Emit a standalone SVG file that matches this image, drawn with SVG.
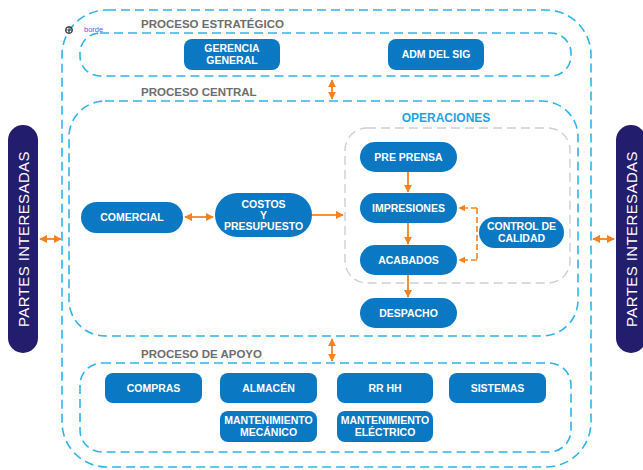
<svg xmlns="http://www.w3.org/2000/svg" width="643" height="470" viewBox="0 0 643 470">
<defs>
<style>
.zone{fill:none;stroke:#2fb4ea;stroke-width:1.6;stroke-dasharray:9 5}
.ops{fill:none;stroke:#cfcfcf;stroke-width:1.4;stroke-dasharray:9 5}
.node{fill:#0a78c3}
.nt{font-family:"Liberation Sans",Arial,sans-serif;font-weight:bold;font-size:10.5px;fill:#fff;text-anchor:middle}
.pi{fill:#231d6e}
.pit{font-family:"Liberation Sans",Arial,sans-serif;font-size:15px;fill:#fff;text-anchor:middle;letter-spacing:0.4px}
.title{font-family:"Liberation Sans",Arial,sans-serif;font-weight:bold;font-size:11.5px;fill:#6d6d6d}
.arr{fill:none;stroke:#f5821f;stroke-width:1.8}
.arrd{fill:none;stroke:#f5821f;stroke-width:1.6;stroke-dasharray:6 3}
</style>
<marker id="ah" viewBox="0 0 10 10" refX="9" refY="5" markerWidth="4.5" markerHeight="4.5" orient="auto-start-reverse">
<path d="M0,0 L10,5 L0,10 z" fill="#f5821f"/>
</marker>
</defs>
<rect width="643" height="470" fill="#fff"/>

<g id="zones">
<rect class="zone" x="62" y="10" width="529" height="457" rx="45"/>
<rect class="zone" x="80" y="33" width="491" height="43" rx="20"/>
<rect class="zone" x="69" y="101" width="509" height="235" rx="36"/>
<rect class="zone" x="80" y="363" width="491" height="89" rx="22"/>
<rect class="ops" x="345" y="128" width="225" height="155" rx="22"/>
</g>

<g id="titles">
<text class="title" x="141" y="28">PROCESO ESTRATÉGICO</text>
<text class="title" x="141" y="96">PROCESO CENTRAL</text>
<text class="title" x="141" y="358">PROCESO DE APOYO</text>
<text x="446" y="122" font-family="Liberation Sans,Arial,sans-serif" font-weight="bold" font-size="12px" fill="#1ea3e6" text-anchor="middle">OPERACIONES</text>
<g id="borde">
<circle cx="69" cy="30" r="3.2" fill="none" stroke="#333" stroke-width="1.2"/>
<path d="M65,30 H73 M69,26 V34" stroke="#333" stroke-width="0.8"/>
<text x="84" y="32" font-family="Liberation Sans,Arial,sans-serif" font-size="7.5px" fill="#5a5af0">borde</text>
</g>
</g>

<g id="connectors">
<line class="arr" x1="332" y1="80" x2="332" y2="99" marker-start="url(#ah)" marker-end="url(#ah)"/>
<line class="arr" x1="332" y1="339" x2="332" y2="361" marker-start="url(#ah)" marker-end="url(#ah)"/>
<line class="arr" x1="40" y1="239" x2="61" y2="239" marker-start="url(#ah)" marker-end="url(#ah)"/>
<line class="arr" x1="593" y1="239" x2="614" y2="239" marker-start="url(#ah)" marker-end="url(#ah)"/>
<line class="arr" x1="185" y1="217" x2="213" y2="217" marker-start="url(#ah)" marker-end="url(#ah)"/>
<line class="arr" x1="312" y1="215" x2="343" y2="215" marker-end="url(#ah)"/>
<line class="arr" x1="408" y1="172" x2="408" y2="192" marker-end="url(#ah)"/>
<line class="arr" x1="408" y1="223" x2="408" y2="244" marker-end="url(#ah)"/>
<line class="arr" x1="408" y1="275" x2="408" y2="297" marker-end="url(#ah)"/>
<path class="arrd" d="M477,208 V260"/>
<line class="arrd" x1="477" y1="208" x2="459" y2="208" marker-end="url(#ah)"/>
<line class="arrd" x1="477" y1="260" x2="459" y2="260" marker-end="url(#ah)"/>
</g>

<g id="partes-izq">
<rect class="pi" x="8" y="125" width="30" height="228" rx="15"/>
<text class="pit" transform="translate(28.5,239) rotate(-90)">PARTES INTERESADAS</text>
</g>
<g id="partes-der">
<rect class="pi" x="616" y="125" width="30" height="228" rx="15"/>
<text class="pit" transform="translate(636.5,239) rotate(-90)">PARTES INTERESADAS</text>
</g>

<g id="gerencia">
<rect class="node" x="184" y="39" width="96" height="31" rx="8"/>
<text class="nt" x="232" y="52">GERENCIA</text>
<text class="nt" x="232" y="64">GENERAL</text>
</g>
<g id="adm">
<rect class="node" x="388" y="39" width="96" height="31" rx="8"/>
<text class="nt" x="436" y="58">ADM DEL SIG</text>
</g>

<g id="comercial">
<rect class="node" x="81" y="202" width="102" height="31" rx="15.5"/>
<text class="nt" x="132" y="221">COMERCIAL</text>
</g>
<g id="costos">
<rect class="node" x="215" y="193" width="97" height="44" rx="22"/>
<text class="nt" x="263.5" y="208">COSTOS</text>
<text class="nt" x="263.5" y="219">Y</text>
<text class="nt" x="263.5" y="230">PRESUPUESTO</text>
</g>

<g id="preprensa">
<rect class="node" x="360" y="142" width="97" height="30" rx="15"/>
<text class="nt" x="408.5" y="161">PRE PRENSA</text>
</g>
<g id="impresiones">
<rect class="node" x="360" y="193" width="97" height="30" rx="15"/>
<text class="nt" x="408.5" y="212">IMPRESIONES</text>
</g>
<g id="acabados">
<rect class="node" x="360" y="245" width="97" height="30" rx="15"/>
<text class="nt" x="408.5" y="264">ACABADOS</text>
</g>
<g id="despacho">
<rect class="node" x="360" y="298" width="97" height="30" rx="15"/>
<text class="nt" x="408.5" y="317">DESPACHO</text>
</g>
<g id="control">
<rect class="node" x="479" y="217" width="85" height="31" rx="15.5"/>
<text class="nt" x="521.5" y="230">CONTROL DE</text>
<text class="nt" x="521.5" y="242">CALIDAD</text>
</g>

<g id="compras">
<rect class="node" x="105" y="373" width="97" height="30" rx="8"/>
<text class="nt" x="153.5" y="392">COMPRAS</text>
</g>
<g id="almacen">
<rect class="node" x="220" y="373" width="97" height="30" rx="8"/>
<text class="nt" x="268.5" y="392">ALMACÉN</text>
</g>
<g id="rrhh">
<rect class="node" x="337" y="373" width="96" height="30" rx="8"/>
<text class="nt" x="385" y="392">RR HH</text>
</g>
<g id="sistemas">
<rect class="node" x="449" y="373" width="97" height="30" rx="8"/>
<text class="nt" x="497.5" y="392">SISTEMAS</text>
</g>
<g id="mant-mecanico">
<rect class="node" x="220" y="411" width="97" height="31" rx="8"/>
<text class="nt" x="268.5" y="424">MANTENIMIENTO</text>
<text class="nt" x="268.5" y="436">MECÁNICO</text>
</g>
<g id="mant-electrico">
<rect class="node" x="337" y="411" width="96" height="31" rx="8"/>
<text class="nt" x="385" y="424">MANTENIMIENTO</text>
<text class="nt" x="385" y="436">ELÉCTRICO</text>
</g>
</svg>
